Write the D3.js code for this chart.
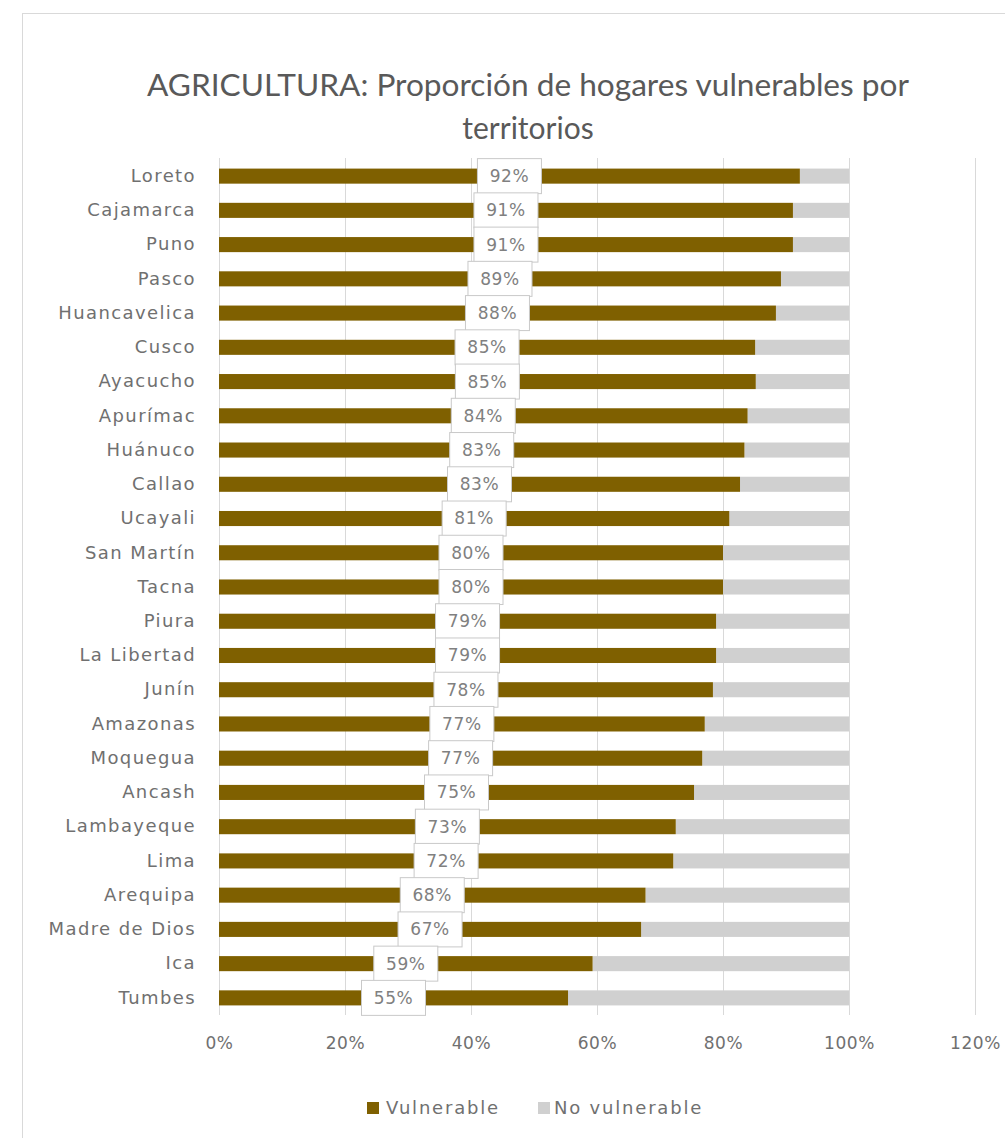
<!DOCTYPE html>
<html>
<head>
<meta charset="utf-8">
<script src="https://cdn.jsdelivr.net/npm/d3@7"></script>
<style>
  body { margin: 0; background: #fff; }
  svg { display: block; }
</style>
</head>
<body>
<script>
// territorios, de arriba hacia abajo
const territorios = ['Loreto', 'Cajamarca', 'Puno', 'Pasco', 'Huancavelica', 'Cusco', 'Ayacucho',
  'Apurímac', 'Huánuco', 'Callao', 'Ucayali', 'San Martín', 'Tacna', 'Piura', 'La Libertad',
  'Junín', 'Amazonas', 'Moquegua', 'Ancash', 'Lambayeque', 'Lima', 'Arequipa', 'Madre de Dios',
  'Ica', 'Tumbes'];
// proporción de hogares vulnerables (%)
const vulnerable = [92.2, 91.1, 91.1, 89.2, 88.4, 85.1, 85.2, 83.9, 83.4, 82.7, 81.0, 80.0, 80.0,
  78.9, 78.9, 78.4, 77.1, 76.7, 75.4, 72.5, 72.1, 67.7, 67.0, 59.3, 55.4];
const xTicks = [0, 20, 40, 60, 80, 100, 120];
const series = ['Vulnerable', 'No vulnerable'];

const colors = { 'Vulnerable': '#7f6000', 'No vulnerable': '#d0d0d0' };
const textColor = '#707070';
const font = '"DejaVu Sans", Verdana, sans-serif';

let dim = { width: 1005, height: 1138 };
let svg = d3.select('body').append('svg').attr('width', dim.width).attr('height', dim.height);

// marco del gráfico
svg.append('rect')
  .attr('x', 22.5).attr('y', 13.5).attr('width', 1100).attr('height', 1200)
  .attr('fill', '#fff').attr('stroke', '#d9d9d9');

// título
let title = svg.append('text')
  .attr('text-anchor', 'middle')
  .attr('fill', '#595959')
  .style('font-family', 'Lato, "Liberation Sans Narrow", sans-serif')
  .style('font-size', '30px');
title.append('tspan').attr('x', 528).attr('y', 96)
  .attr('textLength', 762).attr('lengthAdjust', 'spacingAndGlyphs')
  .text('AGRICULTURA: Proporción de hogares vulnerables por');
title.append('tspan').attr('x', 528).attr('y', 139).text('territorios');

// escalas
let scaleX = d3.scaleLinear().domain([0, 120]).range([219, 975]);
let scaleY = d3.scaleBand().domain(territorios).range([159, 1015]).paddingInner(0.56).paddingOuter(0.28);

// líneas de cuadrícula
svg.append('g')
  .selectAll('line')
  .data(xTicks)
  .enter()
  .append('line')
  .attr('x1', (d) => scaleX(d) + 0.5)
  .attr('x2', (d) => scaleX(d) + 0.5)
  .attr('y1', 158)
  .attr('y2', 1015)
  .attr('stroke', '#d9d9d9');

// eje X
let axisX = d3.axisBottom(scaleX).tickValues(xTicks).tickSize(0).tickPadding(22).tickFormat((d) => d + '%');
let gx = svg.append('g').attr('transform', 'translate(0, 1015)').call(axisX);
gx.select('.domain').remove();
gx.selectAll('text').attr('fill', textColor).style('font-family', font).style('font-size', '17px')
  .style('letter-spacing', '0.6px');

// eje Y
let axisY = d3.axisLeft(scaleY).tickSize(0).tickPadding(23);
let gy = svg.append('g').attr('transform', 'translate(219, 0)').call(axisY);
gy.select('.domain').remove();
gy.selectAll('text').attr('fill', textColor).style('font-family', font).style('font-size', '18px')
  .style('letter-spacing', '1.4px');

// barras apiladas
let rows = territorios.map((t, i) => ({ name: t, v: vulnerable[i] }));

svg.append('g')
  .selectAll('rect')
  .data(rows)
  .enter()
  .append('rect')
  .attr('x', (d) => scaleX(d.v))
  .attr('y', (d) => scaleY(d.name))
  .attr('width', (d) => scaleX(100) - scaleX(d.v))
  .attr('height', scaleY.bandwidth())
  .attr('fill', colors['No vulnerable']);

svg.append('g')
  .selectAll('rect')
  .data(rows)
  .enter()
  .append('rect')
  .attr('x', scaleX(0))
  .attr('y', (d) => scaleY(d.name))
  .attr('width', (d) => scaleX(d.v) - scaleX(0))
  .attr('height', scaleY.bandwidth())
  .attr('fill', colors['Vulnerable']);

// etiquetas de datos
let labels = svg.append('g')
  .selectAll('g')
  .data(rows)
  .enter()
  .append('g')
  .attr('transform', (d) => `translate(${scaleX(d.v / 2)}, ${scaleY(d.name) + scaleY.bandwidth() / 2})`);

labels.append('rect')
  .attr('x', -32).attr('y', -17.5).attr('width', 64).attr('height', 35)
  .attr('fill', '#fff').attr('stroke', '#c9c9c9');

labels.append('text')
  .attr('text-anchor', 'middle')
  .attr('dy', '0.35em')
  .attr('fill', '#808080')
  .style('font-family', font)
  .style('font-size', '17px')
  .style('letter-spacing', '0.6px')
  .text((d) => Math.round(d.v) + '%');

// leyenda
let legend = svg.append('g')
  .selectAll('g')
  .data(series)
  .enter()
  .append('g')
  .attr('transform', (d, i) => `translate(${i === 0 ? 367 : 538}, 1108)`);

legend.append('rect')
  .attr('x', 0).attr('y', -6).attr('width', 12).attr('height', 12)
  .attr('fill', (d) => colors[d]);

legend.append('text')
  .attr('x', (d, i) => (i === 0 ? 19 : 16))
  .attr('dy', '0.35em')
  .attr('fill', textColor)
  .style('font-family', font)
  .style('font-size', '18px')
  .style('letter-spacing', '1.8px')
  .text((d) => d);
</script>
</body>
</html>
